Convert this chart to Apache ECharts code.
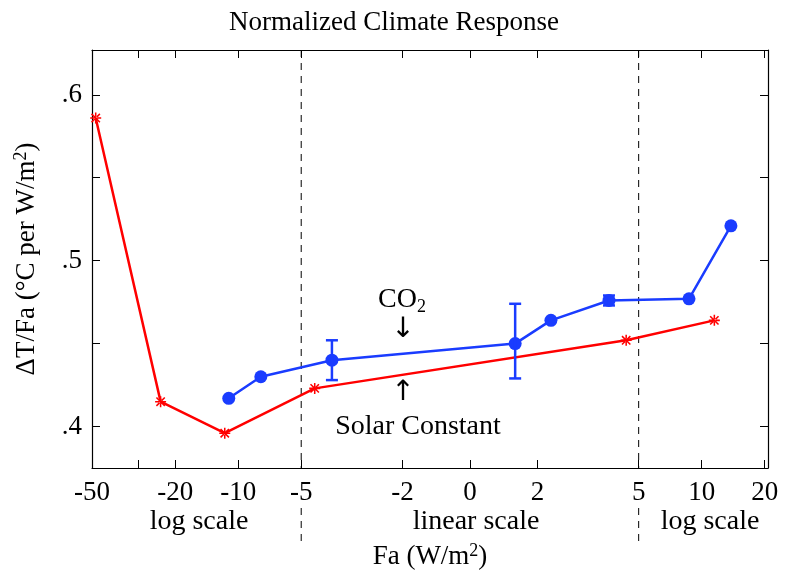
<!DOCTYPE html>
<html><head><meta charset="utf-8">
<script src="https://cdn.jsdelivr.net/npm/echarts@6/dist/echarts.min.js"></script>
<style>html,body{margin:0;padding:0;background:#fff}#c{width:788px;height:572px}</style>
</head><body><div id="c"></div>
<script>
// tick labels on the hybrid Fa axis
const xTicks = [-50, -20, -10, -5, -2, 0, 2, 5, 10, 20];
const xMinorTicks = [-30];
const yTicks = [0.4, 0.5, 0.6];
const yMinor = [0.45, 0.55];

// solar constant (red)
const solarFa = [-48, -23.5, -11.6, -4.6, 4.63, 11.5];
const solarResp = [0.586, 0.415, 0.396, 0.423, 0.452, 0.464];

// CO2 (blue)
const co2Fa = [-11.1, -7.8, -4.09, 1.34, 2.4, 4.12, 8.7, 13.8];
const co2Resp = [0.417, 0.430, 0.440, 0.450, 0.464, 0.476, 0.477, 0.521];
// error bars: [Fa, low, high]
const co2Err = [[-4.09, 0.428, 0.452], [1.34, 0.429, 0.474], [4.12, 0.473, 0.479]];

// hybrid scale: linear inside |Fa|<=5, log outside (6.2 units per decade)
const K = 6.2;
function fx(v) {
    const a = Math.abs(v), s = v < 0 ? -1 : 1;
    if (a <= 5) return v;
    return s * (5 + K * Math.log10(a / 5));
}
const labelOf = {};
xTicks.forEach(v => { labelOf[fx(v).toFixed(4)] = String(v); });

const serif = 'Liberation Serif';
const xMin = fx(-50), xMax = fx(20) + 0.1;
const yMin = 0.375, yMax = 0.627;
const xt = xTicks.map(fx);
const xtAll = xt.concat(xMinorTicks.map(fx));
const ytAll = yTicks.concat(yMinor);

const star = 'path://M-0.7,-5H0.7V5H-0.7Z M-5,-0.7H5V0.7H-5Z M-4.3,-3.3L-3.3,-4.3L4.3,3.3L3.3,4.3Z M4.3,-3.3L3.3,-4.3L-4.3,3.3L-3.3,4.3Z';

const xBase = {type: 'value', min: xMin, max: xMax,
    axisLine: {show: true, onZero: false, lineStyle: {color: '#000', width: 1.2}},
    axisTick: {show: true, inside: true, length: 8, customValues: xtAll, lineStyle: {color: '#000'}},
    splitLine: {show: false}};
const yBase = {type: 'value', min: yMin, max: yMax,
    axisLine: {show: true, onZero: false, lineStyle: {color: '#000', width: 1.2}},
    axisTick: {show: true, inside: true, length: 8, customValues: ytAll, lineStyle: {color: '#000'}},
    splitLine: {show: false}};

const chart = echarts.init(document.getElementById('c'));
chart.setOption({
    animation: false,
    title: {text: 'Normalized Climate Response', left: 'center', top: 4,
        textStyle: {fontFamily: serif, fontSize: 27, fontWeight: 'normal', color: '#000'}},
    grid: {left: 92, right: 20, top: 50, bottom: 104, containLabel: false, outerBoundsMode: 'none'},
    xAxis: [
        Object.assign({}, xBase, {position: 'bottom',
            axisLabel: {customValues: xt, margin: 11, fontFamily: serif, fontSize: 27, color: '#000',
                formatter: v => labelOf[v.toFixed(4)] || ''},
            name: '{a|Fa (W/m}{s|2}{a|)}', nameLocation: 'middle', nameGap: 74,
            nameTextStyle: {rich: {a: {fontFamily: serif, fontSize: 27, color: '#000'},
                s: {fontFamily: serif, fontSize: 18, color: '#000', verticalAlign: 'top', padding: [0, 0, 12, 0]}}}}),
        Object.assign({}, xBase, {position: 'top', axisLabel: {show: false}})
    ],
    yAxis: [
        Object.assign({}, yBase, {position: 'left',
            axisLabel: {customValues: yTicks, margin: 10, fontFamily: serif, fontSize: 27, color: '#000',
                formatter: v => '.' + Math.round(v * 10)},
            name: '{a|ΔT/Fa (°C per W/m}{s|2}{a|)}', nameLocation: 'middle', nameGap: 50, nameRotate: 90,
            nameTextStyle: {rich: {a: {fontFamily: serif, fontSize: 27, color: '#000'},
                s: {fontFamily: serif, fontSize: 18, color: '#000', verticalAlign: 'top', padding: [0, 0, 12, 0]}}}}),
        Object.assign({}, yBase, {position: 'right', axisLabel: {show: false}})
    ],
    series: [
        {type: 'line', name: 'Solar', data: solarFa.map((v, i) => [fx(v), solarResp[i]]),
            lineStyle: {color: '#f00', width: 2.5}, itemStyle: {color: '#f00'},
            symbol: star, symbolSize: 11, z: 3},
        {type: 'line', name: 'CO2', data: co2Fa.map((v, i) => [fx(v), co2Resp[i]]),
            lineStyle: {color: '#1a3cff', width: 2.5}, itemStyle: {color: '#1a3cff'},
            symbol: 'circle', symbolSize: 13, z: 4},
        {type: 'custom', name: 'err', z: 5,
            data: co2Err.map(e => [fx(e[0]), e[1], e[2]]),
            renderItem: (params, api) => {
                const lo = api.coord([api.value(0), api.value(1)]);
                const hi = api.coord([api.value(0), api.value(2)]);
                const st = {stroke: '#1a3cff', lineWidth: 2.5};
                return {type: 'group', children: [
                    {type: 'line', shape: {x1: lo[0], y1: lo[1], x2: hi[0], y2: hi[1]}, style: st},
                    {type: 'line', shape: {x1: lo[0] - 6, y1: lo[1], x2: lo[0] + 6, y2: lo[1]}, style: st},
                    {type: 'line', shape: {x1: hi[0] - 6, y1: hi[1], x2: hi[0] + 6, y2: hi[1]}, style: st}
                ]};
            }}
    ]
});

// dashed scale boundaries at Fa = -5 and 5, running on below the axis labels
const txt = (t, x, y) => ({type: 'text', x: x, y: y,
    style: {text: t, font: '28px "Liberation Serif"', fill: '#000', align: 'center', verticalAlign: 'middle'}});
const dashes = [];
[-5, 5].forEach(v => {
    const top = chart.convertToPixel({xAxisIndex: 0, yAxisIndex: 0}, [fx(v), yMax]);
    const bot = chart.convertToPixel({xAxisIndex: 0, yAxisIndex: 0}, [fx(v), yMin]);
    const st = {stroke: '#000', lineWidth: 1, lineDash: [7, 6]};
    dashes.push({type: 'line', z: 1, shape: {x1: top[0], y1: top[1], x2: top[0], y2: bot[1]}, style: st});
    dashes.push({type: 'line', z: 1, shape: {x1: top[0], y1: 508, x2: top[0], y2: 544}, style: st});
});
chart.setOption({graphic: dashes.concat([
    txt('log scale', 199, 522),
    txt('linear scale', 476, 522),
    txt('log scale', 710, 522),
    {type: 'text', x: 378, y: 284, style: {rich: {a: {font: '28px "Liberation Serif"', fill: '#000'},
        s: {font: '18px "Liberation Serif"', fill: '#000', padding: [14, 0, 0, 0]}}, text: '{a|CO}{s|2}'}},
    {type: 'text', x: 403, y: 330, style: {text: '↓', font: '28px "DejaVu Sans"', fill: '#000', align: 'center', verticalAlign: 'middle'}},
    {type: 'text', x: 403, y: 393, style: {text: '↑', font: '28px "DejaVu Sans"', fill: '#000', align: 'center', verticalAlign: 'middle'}},
    txt('Solar Constant', 418, 427)
])});
</script></body></html>
